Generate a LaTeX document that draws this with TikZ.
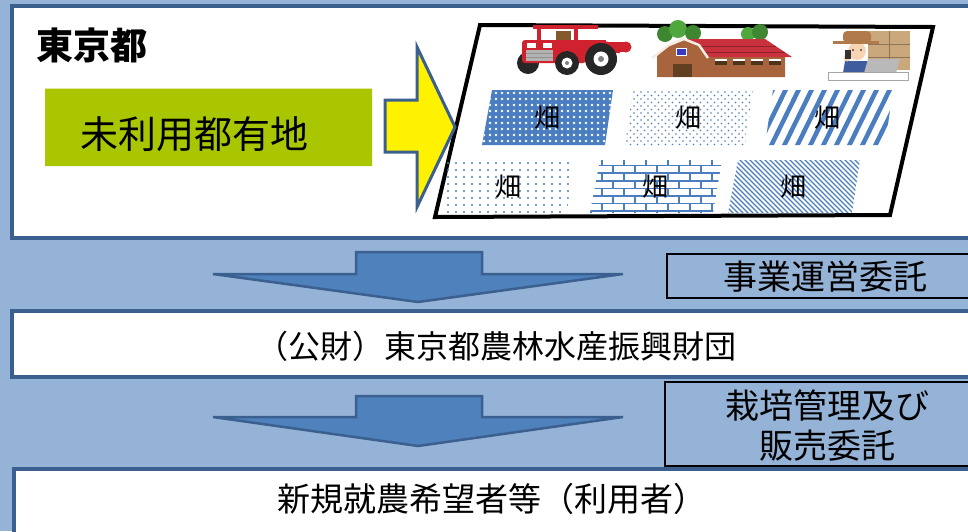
\documentclass[tikz,border=0pt]{standalone}
\usepackage{fontspec}
\newfontfamily\jp{Noto Sans CJK JP}
\definecolor{bgblue}{HTML}{95B3D7}
\definecolor{frameblue}{HTML}{3B5F8E}
\definecolor{arrowblue}{HTML}{4F81BD}
\definecolor{patblue}{HTML}{4A7EC0}
\definecolor{grass}{HTML}{A9C600}
\definecolor{tractorred}{HTML}{D0222E}
\definecolor{barnbrown}{HTML}{A8643C}
\definecolor{roofred}{HTML}{C9323C}
\definecolor{leaf}{HTML}{4FA83D}
\definecolor{skin}{HTML}{F7D5B4}
\definecolor{cardboard}{HTML}{CBA77C}
\definecolor{overall}{HTML}{3F5C9E}
\definecolor{hatbrown}{HTML}{B07A4A}
\tikzset{
  panel/.style={fill=white, draw=frameblue, line width=4pt},
  flowarrow/.style={fill=arrowblue, draw=frameblue, line width=2.5pt, line join=miter},
  notebox/.style={draw=black, line width=2pt},
  fieldtext/.style={font=\jp\fontsize{26}{26}\selectfont, inner sep=0pt},
  bigtext/.style={font=\jp\fontsize{#1}{#1}\selectfont, inner sep=0pt},
}
\begin{document}
\begin{tikzpicture}[x=1pt,y=-1pt]
\useasboundingbox (0,0) rectangle (968,531);
\fill[bgblue] (0,0) rectangle (968,531);

% three white panels
\draw[panel] (12,6) rectangle (995,238);
\draw[panel] (12,311) rectangle (995,377);
\draw[panel] (14,469) rectangle (995,550);

% Tokyo header and idle land with a ragged top edge
\node[bigtext=37, font=\jp\bfseries\fontsize{37}{37}\selectfont] (tokyo) at (92,45) {東京都};
\fill[grass] (45,90) -- plot[domain=45:372, samples=110] (\x,{88.5+1.2*sin(mod(\x,3)*120)}) -- (372,166) -- (45,166) -- cycle;
\node[bigtext=38] (idle) at (194,134) {未利用都有地};

% farm area
\draw[fill=white, line width=4pt, line join=miter] (480,25) -- (933,27) -- (890,215) -- (435,217) -- cycle;

% yellow conversion arrow
\draw[fill=yellow, draw=frameblue, line width=3pt, line join=miter]
  (385,100) -- (417,100) -- (417,47) -- (455,127) -- (417,207) -- (417,152) -- (385,152) -- cycle;

% field 1: white dots on blue
\begin{scope}
\clip (492,90) -- (613,90) -- (605,145) -- (482,145) -- cycle;
\fill[patblue] (470,85) rectangle (625,150);
\foreach \y in {93,99,...,147} \foreach \x in {478,484,...,620} \fill[white] (\x,\y) circle (1.3);
\end{scope}
% field 2: fine blue dots
\begin{scope}
\clip (633,90) -- (753,90) -- (745,145) -- (625,145) -- cycle;
\foreach \y in {92,99,...,146} \foreach \x in {620,627,...,760} \fill[patblue] (\x,\y) circle (0.9);
\foreach \y in {95.5,102.5,...,146} \foreach \x in {623.5,630.5,...,760} \fill[patblue] (\x,\y) circle (0.9);
\end{scope}
% field 3: wide stripes
\begin{scope}
\clip (773,90) -- (893,90) -- (885,145) -- (765,145) -- cycle;
\foreach \x in {730,743,...,900} \draw[patblue, line width=4.5pt] (\x,150) -- (\x+32,85);
\end{scope}
% field 4: sparse dots
\begin{scope}
\clip (447,160) -- (573,160) -- (567,213) -- (443,213) -- cycle;
\foreach \y in {163,170,...,213} \foreach \x in {440,448,...,580} \fill[patblue] (\x,\y) circle (1.1);
\end{scope}
% field 5: bricks
\begin{scope}
\clip (600,160) -- (722,160) -- (713,213) -- (590,213) -- cycle;
\foreach \r in {0,...,7} {
  \pgfmathsetmacro\ya{158+\r*7.6}
  \pgfmathsetmacro\yb{\ya+7.6}
  \pgfmathsetmacro\off{mod(\r,2)*11}
  \draw[patblue, line width=1.6pt] (580,\ya) -- (730,\ya);
  \foreach \k in {0,...,7} \draw[patblue, line width=1.6pt] (580+\off+\k*22,\ya) -- (580+\off+\k*22,\yb);
}
\end{scope}
% field 6: fine diagonal hatching
\begin{scope}
\clip (738,160) -- (860,160) -- (852,213) -- (728,213) -- cycle;
\foreach \x in {660,665,...,864} \draw[patblue, line width=1.1pt] (\x,155) -- (\x+65,220);
\end{scope}

\node[fieldtext] (f1) at (547,118) {畑};
\node[fieldtext] (f2) at (688,118) {畑};
\node[fieldtext] (f3) at (827,118) {畑};
\node[fieldtext] (f4) at (508,187) {畑};
\node[fieldtext] (f5) at (655,187) {畑};
\node[fieldtext] (f6) at (793,187) {畑};

% tractor
\begin{scope}
\fill[tractorred] (598,42) rectangle (626,52);
\fill[tractorred] (626,47) circle (5.5);
\fill[black!85] (528,63) circle (11);
\fill[tractorred] (533,25) rectangle (598,29);
\fill[tractorred] (537,28) rectangle (541,44);
\fill[tractorred] (574,28) rectangle (578,44);
\fill[brown!70!black] (556,31) rectangle (571,44);
\fill[tractorred, rounded corners=3pt] (522,40) rectangle (586,63);
\fill[tractorred] (578,40) rectangle (606,52);
\fill[gray!60] (526,50) rectangle (553,61);
\draw[gray!85, line width=0.6pt] (526,53.5) -- (553,53.5) (526,57) -- (553,57);
\fill[white] (527,43) rectangle (536,48);
\fill[white] (543,43) rectangle (552,48);
\fill[black!85] (567,63) circle (12);
\fill[white] (567,63) circle (5.5);
\fill[gray] (567,63) circle (2);
\fill[tractorred] (582,53) arc (180:360:19 and 12) -- cycle;
\fill[black!85] (601,59) circle (16);
\fill[white] (601,59) circle (7.5);
\fill[gray] (601,59) circle (3);
\end{scope}

% barn with trees
\begin{scope}
\fill[leaf!80!black] (665,34) circle (8);
\fill[leaf] (678,29) circle (9);
\fill[leaf!80!black] (693,33) circle (8);
\fill[leaf] (748,34) circle (7);
\fill[leaf!80!black] (760,32) circle (8);
\fill[barnbrown] (657,77) -- (657,56) -- (670,45) -- (684,40) -- (698,45) -- (706,56) -- (785,56) -- (785,77) -- cycle;
\fill[roofred] (686,39) -- (765,39) -- (792,57) -- (707,57) -- (699,45) -- cycle;
\draw[roofred!70!black, line width=0.8pt] (700,46) -- (776,46) (705,52) -- (785,52);
\draw[white!85!brown, line width=2.5pt, line join=round] (652,58) -- (669,45) -- (684,39) -- (699,45) -- (708,58);
\fill[brown!50!black] (673,64) rectangle (692,77);
\draw[white, line width=1pt, fill=blue!55!gray] (676,48) rectangle (686,55);
\foreach \wx in {715,733,751,769} {
  \fill[white] (\wx,59) rectangle (\wx+12,61);
  \fill[brown!40!black] (\wx,61) rectangle (\wx+12,65);
}
\end{scope}

% farmer at the desk
\begin{scope}
\fill[cardboard] (868,31) rectangle (910,70);
\draw[cardboard!70!black, line width=0.6pt] (868,44) -- (910,44) (868,57) -- (910,57) (889,31) -- (889,70);
\fill[overall] (843,73) -- (845,61) -- (870,61) -- (874,73) -- cycle;
\fill[skin] (857,51) circle (9);
\fill[black] (853,50) circle (0.9) (861,50) circle (0.9);
\fill[hatbrown, rounded corners=4pt] (843,31) rectangle (871,43);
\fill[hatbrown] (833,41) rectangle (879,44);
\fill[skin] (847,58) circle (3.5);
\fill[black!80] (845,50) rectangle (851,59);
\fill[gray!55] (868,59) -- (900,59) -- (896,73) -- (864,73) -- cycle;
\draw[gray!70, fill=white, line width=1pt] (828,72) rectangle (908,80);
\end{scope}

% downward arrows
\draw[flowarrow] (356,252) -- (482,252) -- (482,274) -- (623,274) -- (418,302) -- (213,274) -- (356,274) -- cycle;
\draw[flowarrow] (356,396) -- (482,396) -- (482,417) -- (623,417) -- (418,446) -- (213,417) -- (356,417) -- cycle;

% commission notes
\draw[notebox] (667,254) rectangle (995,298);
\node[bigtext=34] (ops) at (825,277) {事業運営委託};
\draw[notebox] (665,382) rectangle (995,466);
\node[font=\jp\fontsize{34}{40}\selectfont, inner sep=0pt, align=center] (sales) at (827,426) {栽培管理及び\\販売委託};

% organisations
\node[bigtext=32] (found) at (496,346) {（公財）東京都農林水産振興財団};
\node[bigtext=33] (users) at (492,499) {新規就農希望者等（利用者）};
\end{tikzpicture}
\end{document}
